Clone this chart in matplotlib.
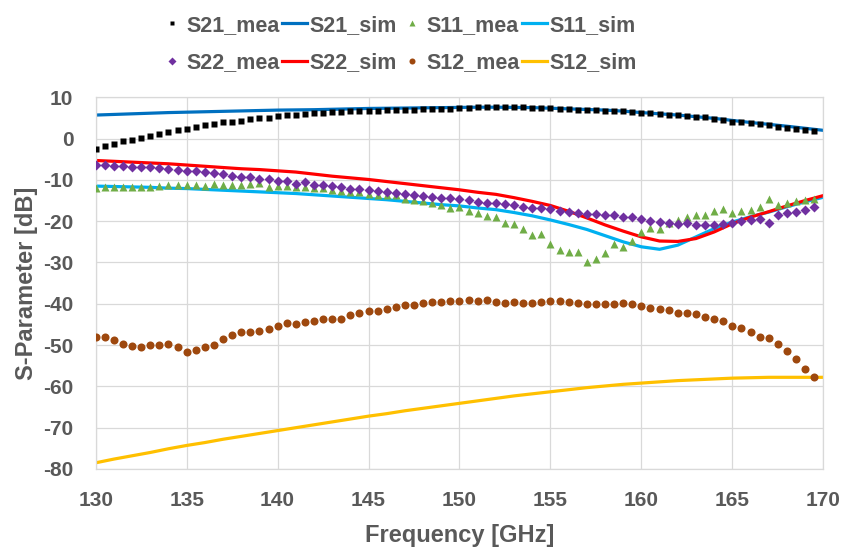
import numpy as np
import matplotlib
matplotlib.use("Agg")
import matplotlib.pyplot as plt
from matplotlib.lines import Line2D

plt.rcParams["axes.unicode_minus"] = False

# ---------------- data ----------------
f_mea = np.arange(130, 170, 0.5)
f_sim = np.arange(130, 171, 1.0)

s21_mea = [-2.5, -1.8, -1.2, -0.7, -0.3, 0.15, 0.6, 1.2, 1.6, 2.1, 2.4, 2.8, 3.2, 3.5, 3.9, 4.0,
           4.3, 4.7, 4.9, 5.1, 5.4, 5.6, 5.8, 6.0, 6.1, 6.3, 6.4, 6.5, 6.6, 6.8, 6.8, 6.8, 6.9, 6.9,
           6.9, 7.0, 7.1, 7.1, 7.1, 7.2,
           7.4, 7.4, 7.6, 7.6, 7.6, 7.6, 7.6, 7.6, 7.4, 7.4, 7.4, 7.2, 7.1, 6.9, 6.9, 6.9, 6.8, 6.8,
           6.6, 6.4, 6.3, 6.1, 6.0, 5.8, 5.6, 5.5, 5.3, 5.2, 4.75, 4.5, 4.1, 3.9, 3.7, 3.5, 3.2, 2.9,
           2.6, 2.4, 2.1, 1.8]

s11_mea = [-12.0, -11.6, -11.8, -11.6, -11.8, -11.8, -11.6, -11.5, -11.3, -11.3, -11.2, -11.2, -11.5,
           -11.0, -11.2, -11.3, -11.25, -11.0, -10.8, -11.6, -11.5, -11.5, -11.6, -11.6, -12.0, -12.0,
           -12.4, -12.6, -12.85, -12.85, -13.4, -13.65, -13.6, -13.7, -14.6, -14.9, -15.0, -15.7, -16.0,
           -16.9,
           -16.6, -17.5, -17.9, -18.7, -19.1, -20.4, -20.75, -22.0, -23.3, -23.1, -25.5, -27.0, -27.5,
           -27.5, -30.0, -29.2, -27.6, -25.4, -26.3, -24.7, -22.6, -21.6, -21.8, -20.4, -19.7, -18.9,
           -18.4, -18.6, -17.5, -17.1, -17.9, -17.5, -17.3, -16.5, -14.7, -16.0, -15.7, -15.0, -14.9,
           -14.7]

s22_mea = [-6.4, -6.4, -6.6, -6.6, -6.8, -6.95, -6.95, -7.2, -7.4, -7.6, -7.8, -7.9, -8.1, -8.4, -8.6,
           -9.05, -9.2, -9.4, -9.7, -9.9, -10.2, -10.2, -11.0, -10.6, -11.2, -11.2, -11.4, -11.6, -12.1,
           -12.3, -12.4, -12.8, -12.9, -13.1, -13.4, -13.7, -13.9, -14.2, -14.4, -14.5,
           -14.7, -14.9, -15.3, -15.5, -15.7, -15.9, -16.1, -16.5, -16.9, -16.9, -17.1, -17.5, -17.8,
           -17.9, -18.3, -18.3, -18.5, -18.6, -18.9, -18.9, -19.5, -20.0, -20.2, -20.5, -20.6, -20.4,
           -20.8, -20.8, -20.8, -20.6, -20.4, -20.0, -19.7, -19.4, -20.5, -18.4, -18.1, -17.8, -17.3,
           -16.6]

s12_mea = [-48.1, -48.1, -48.8, -49.7, -50.2, -50.4, -50.05, -50.05, -49.7, -50.4, -51.7, -51.2, -50.4,
           -50.05, -48.45, -47.55, -46.75, -46.75, -46.5, -46.2, -45.4, -44.6, -44.9, -44.3, -44.1,
           -43.6, -43.6, -43.6, -42.8, -42.3, -41.8, -41.7, -41.3, -40.7, -40.4, -40.2, -39.9, -39.6,
           -39.6, -39.4,
           -39.4, -39.1, -39.4, -39.1, -39.6, -39.7, -39.6, -39.7, -39.9, -39.6, -39.4, -39.4, -39.6,
           -39.9, -40.05, -40.05, -40.05, -40.05, -39.7, -40.05, -40.5, -41.0, -41.2, -41.5, -42.2,
           -42.2, -42.5, -43.1, -43.6, -44.1, -45.4, -45.9, -46.8, -48.0, -48.3, -49.7, -51.5, -53.3,
           -55.7, -57.65]

s21_sim = [5.7, 5.85, 6.0, 6.15, 6.3, 6.4, 6.5, 6.6, 6.7, 6.8, 6.9, 6.95, 7.0, 7.1, 7.2, 7.3, 7.35,
           7.4, 7.45, 7.5, 7.55, 7.6, 7.6, 7.55, 7.5, 7.35, 7.2, 7.05, 6.9, 6.65, 6.3, 6.0, 5.7, 5.3,
           4.9, 4.4, 3.9, 3.45, 3.0, 2.5, 2.0]

s11_sim = [-11.5, -11.6, -11.7, -11.8, -12.0, -12.1, -12.3, -12.5, -12.7, -12.9, -13.1, -13.3, -13.6,
           -13.9, -14.2, -14.5, -14.8, -15.2, -15.6, -16.0, -16.3, -16.8, -17.2, -17.9, -18.7, -19.7,
           -20.8, -22.0, -23.5, -25.0, -26.2, -26.8, -25.8, -23.8, -21.8, -20.2, -18.9, -17.8, -16.5,
           -15.3, -14.2]

s22_sim = [-5.3, -5.5, -5.7, -5.9, -6.1, -6.4, -6.7, -7.0, -7.3, -7.5, -7.8, -8.1, -8.6, -9.1, -9.5,
           -9.9, -10.4, -10.9, -11.4, -11.9, -12.4, -13.0, -13.5, -14.3, -15.2, -16.2, -17.6, -19.2,
           -20.9, -22.4, -23.8, -24.8, -24.9, -24.2, -22.6, -20.6, -19.0, -17.7, -16.3, -15.0, -13.8]

s12_sim = [-78.5, -77.6, -76.8, -76.0, -75.1, -74.3, -73.6, -72.8, -72.1, -71.4, -70.7, -70.0, -69.3,
           -68.6, -67.9, -67.2, -66.6, -65.9, -65.3, -64.7, -64.1, -63.5, -62.9, -62.3, -61.8, -61.3,
           -60.8, -60.3, -59.9, -59.5, -59.2, -58.9, -58.6, -58.4, -58.2, -58.0, -57.9, -57.8, -57.8,
           -57.8, -57.8]

x_ticks = [130, 135, 140, 145, 150, 155, 160, 165, 170]
y_ticks = [-80, -70, -60, -50, -40, -30, -20, -10, 0, 10]

# ---------------- style ----------------
FONT = "Liberation Sans"
TXT = "#595959"
GRID = "#D9D9D9"

fig = plt.figure(figsize=(8.44, 5.47), dpi=100)
ax = fig.add_axes([95.7 / 844, 1 - 469 / 547, (823.3 - 95.7) / 844, (469 - 97.3) / 547])

lw = 2.3
ms_sq, ms_tri, ms_dia, ms_cir = 4.8, 6.3, 5.3, 5.8
ax.plot(f_sim, s21_sim, color="#0070C0", lw=lw, zorder=2)
ax.plot(f_sim, s11_sim, color="#00B0F0", lw=lw, zorder=2)
ax.plot(f_sim, s22_sim, color="#FF0000", lw=lw, zorder=2)
ax.plot(f_sim, s12_sim, color="#FFC000", lw=lw, zorder=2)

ax.plot(f_mea, s21_mea, ls="none", marker="s", ms=ms_sq, color="#000000", mec="none", zorder=3)
ax.plot(f_mea, s11_mea, ls="none", marker="^", ms=ms_tri, color="#70AD47", mec="none", zorder=3)
ax.plot(f_mea, s22_mea, ls="none", marker="D", ms=ms_dia, color="#7030A0", mec="none", zorder=3)
ax.plot(f_mea, s12_mea, ls="none", marker="o", ms=ms_cir, color="#9E480E", mec="none", zorder=3)

ax.set_xlim(130, 170)
ax.set_ylim(-80, 10)
ax.set_xticks(x_ticks)
ax.set_yticks(y_ticks)
ax.grid(True, color=GRID, lw=0.9, zorder=0)
ax.set_axisbelow(True)
for s in ax.spines.values():
    s.set_color(GRID)
    s.set_linewidth(0.9)
ax.tick_params(length=0, labelsize=15, labelcolor=TXT, pad=16)
for lab in ax.get_xticklabels() + ax.get_yticklabels():
    lab.set_fontfamily(FONT)
    lab.set_fontweight("bold")

ax.set_xlabel("Frequency [GHz]", fontsize=17, fontweight="bold", color=TXT, family=FONT, labelpad=10)
ax.set_ylabel("S-Parameter [dB]", fontsize=17, fontweight="bold", color=TXT, family=FONT, labelpad=4)

# legend
h = {
    "S21_mea": Line2D([], [], ls="none", marker="s", ms=ms_sq, color="#000000", mec="none"),
    "S21_sim": Line2D([], [], color="#0070C0", lw=lw),
    "S11_mea": Line2D([], [], ls="none", marker="^", ms=ms_tri, color="#70AD47", mec="none"),
    "S11_sim": Line2D([], [], color="#00B0F0", lw=lw),
    "S22_mea": Line2D([], [], ls="none", marker="D", ms=ms_dia, color="#7030A0", mec="none"),
    "S22_sim": Line2D([], [], color="#FF0000", lw=lw),
    "S12_mea": Line2D([], [], ls="none", marker="o", ms=ms_cir, color="#9E480E", mec="none"),
    "S12_sim": Line2D([], [], color="#FFC000", lw=lw),
}
order = ["S21_mea", "S22_mea", "S21_sim", "S22_sim", "S11_mea", "S12_mea", "S11_sim", "S12_sim"]
leg = fig.legend([h[k] for k in order], order, ncol=4, loc="upper left",
                 bbox_to_anchor=(159.5 / 844, 1 - 15 / 547), frameon=False,
                 prop={"family": FONT, "weight": "bold", "size": 15.5},
                 handlelength=1.15, handletextpad=0.1, columnspacing=0.12,
                 labelspacing=0.75, borderpad=0, borderaxespad=0, markerscale=0.75)
for t in leg.get_texts():
    t.set_color(TXT)

fig.savefig("out.png", dpi=100)
